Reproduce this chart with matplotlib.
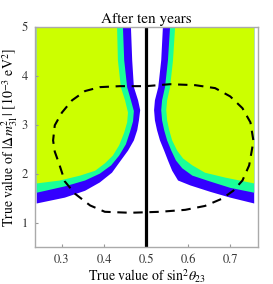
import matplotlib
matplotlib.use('Agg')
import matplotlib.pyplot as plt

plt.rcParams['font.family'] = ['STIXGeneral', 'DejaVu Serif']
plt.rcParams['mathtext.fontset'] = 'stix'

# boundaries (sin^2 theta23, dm31^2 in 1e-3 eV^2)
# left side: top -> floor
left_yellow_x = [0.431, 0.433, 0.440, 0.450, 0.457, 0.455, 0.448, 0.436, 0.421, 0.402, 0.379, 0.343, 0.295, 0.240]
left_yellow_y = [5.00, 4.32, 3.77, 3.50, 3.25, 3.05, 2.84, 2.58, 2.37, 2.21, 2.06, 1.96, 1.86, 1.80]
left_green_x = [0.445, 0.448, 0.455, 0.464, 0.471, 0.469, 0.462, 0.452, 0.436, 0.417, 0.390, 0.355, 0.307, 0.240]
left_green_y = [5.00, 4.32, 3.77, 3.50, 3.28, 3.07, 2.86, 2.60, 2.37, 2.17, 2.00, 1.86, 1.74, 1.61]
left_blue_x = [0.464, 0.467, 0.471, 0.481, 0.486, 0.483, 0.479, 0.471, 0.457, 0.440, 0.419, 0.390, 0.355, 0.307, 0.240]
left_blue_y = [5.00, 4.32, 3.77, 3.50, 3.30, 3.09, 2.89, 2.68, 2.47, 2.27, 2.02, 1.82, 1.65, 1.51, 1.39]

# right side: top -> floor
right_blue_x = [0.540, 0.536, 0.529, 0.521, 0.519, 0.521, 0.526, 0.533, 0.543, 0.552, 0.562, 0.576, 0.605, 0.652, 0.700, 0.757]
right_blue_y = [5.00, 4.32, 3.77, 3.50, 3.30, 3.09, 2.89, 2.68, 2.47, 2.27, 2.06, 1.86, 1.76, 1.63, 1.51, 1.39]
right_green_x = [0.557, 0.552, 0.545, 0.538, 0.536, 0.538, 0.543, 0.550, 0.560, 0.571, 0.586, 0.610, 0.652, 0.700, 0.757]
right_green_y = [5.00, 4.32, 3.77, 3.50, 3.30, 3.09, 2.89, 2.68, 2.47, 2.27, 2.11, 1.96, 1.84, 1.71, 1.61]
right_yellow_x = [0.569, 0.564, 0.557, 0.550, 0.548, 0.550, 0.555, 0.562, 0.574, 0.588, 0.610, 0.640, 0.688, 0.757]
right_yellow_y = [5.00, 4.32, 3.77, 3.50, 3.30, 3.09, 2.89, 2.68, 2.47, 2.31, 2.17, 2.02, 1.92, 1.80]

# dashed contour
dash_x = [0.500, 0.557, 0.617, 0.664, 0.700, 0.729, 0.748, 0.755, 0.752, 0.745, 0.729, 0.707, 0.681, 0.640,
          0.593, 0.533, 0.462, 0.402, 0.367, 0.331, 0.307, 0.293, 0.283, 0.279, 0.283, 0.300, 0.324, 0.355,
          0.390, 0.438, 0.500]
dash_y = [3.79, 3.83, 3.81, 3.75, 3.58, 3.34, 3.05, 2.68, 2.51, 2.17, 1.86, 1.65, 1.49, 1.34,
          1.26, 1.22, 1.20, 1.22, 1.35, 1.59, 1.84, 2.21, 2.45, 2.68, 2.99, 3.25, 3.50, 3.69,
          3.77, 3.79, 3.79]

true_value = 0.5
x_edge_left = 0.240
x_edge_right = 0.757
y_top = 5.0

yellow = '#ccff00'
green = '#1aff99'
blue = '#3300ff'

fig = plt.figure(figsize=(2.73, 2.84), dpi=100)
ax = fig.add_axes([35 / 273, 37 / 284, 223 / 273, 220 / 284])

for xs, ys, c in [(left_blue_x, left_blue_y, blue), (left_green_x, left_green_y, green),
                  (left_yellow_x, left_yellow_y, yellow)]:
    ax.fill(xs + [x_edge_left], ys + [y_top], color=c, lw=0)
for xs, ys, c in [(right_blue_x, right_blue_y, blue), (right_green_x, right_green_y, green),
                  (right_yellow_x, right_yellow_y, yellow)]:
    ax.fill(xs + [x_edge_right], ys + [y_top], color=c, lw=0)

ax.plot(dash_x, dash_y, color='k', lw=1.5, dashes=(4.5, 3.2))
ax.axvline(true_value, color='k', lw=2.3)

ax.set_xlim(0.236, 0.766)
ax.set_ylim(0.5, 5.0)
ax.set_xticks([0.3, 0.4, 0.5, 0.6, 0.7])
ax.set_yticks([1, 2, 3, 4, 5])
ax.tick_params(direction='in', length=2.5, width=0.8, color='#999999', labelsize=9, labelcolor='#333333', pad=5)
for sp in ax.spines.values():
    sp.set_color('#aaaaaa')
    sp.set_linewidth(1.0)

ax.set_title('After ten years', fontsize=11, pad=3)
ax.set_xlabel(r'True value of sin$^2\theta_{23}$', fontsize=10, labelpad=1)
ax.set_ylabel(r'True value of $|\Delta m^2_{31}|$ [10$^{-3}$ eV$^2$]', fontsize=10, labelpad=1)

fig.savefig('out.png', dpi=100)
